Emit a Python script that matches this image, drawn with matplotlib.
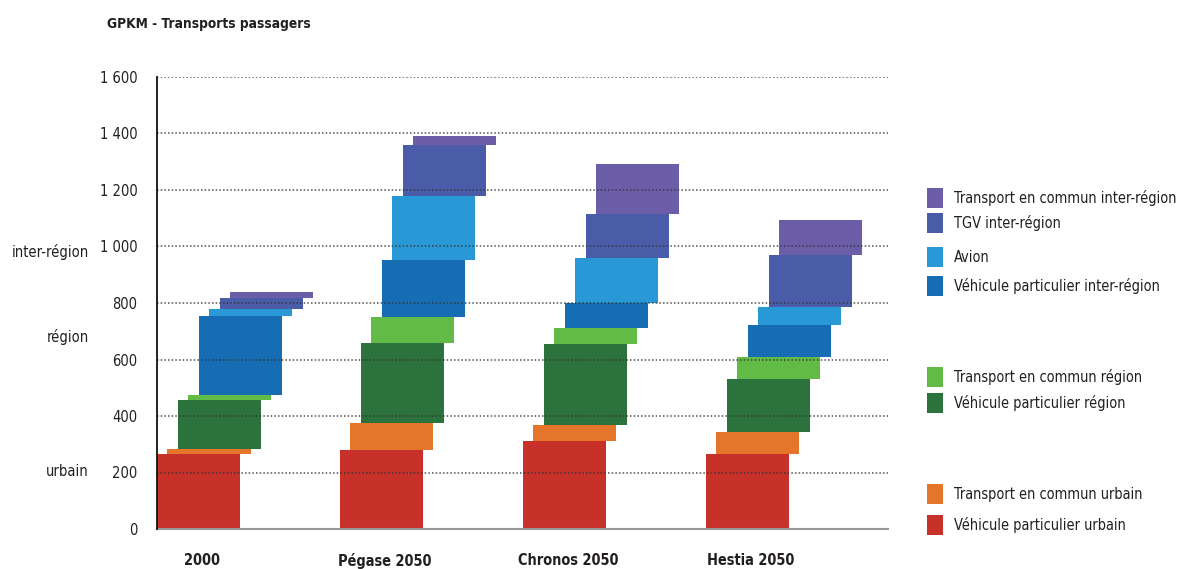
import numpy as np
import matplotlib
matplotlib.use("Agg")
import matplotlib.pyplot as plt
from matplotlib import font_manager as fm
from matplotlib.patches import Rectangle

# scenarios and passenger-km (GPKM) per transport segment, bottom to top
scenarios = ["2000", "Pégase 2050", "Chronos 2050", "Hestia 2050"]
segments = [
    "Véhicule particulier urbain",
    "Transport en commun urbain",
    "Véhicule particulier région",
    "Transport en commun région",
    "Véhicule particulier inter-région",
    "Avion",
    "TGV inter-région",
    "Transport en commun inter-région",
]
vp_urbain = [265, 280, 311, 265]
tc_urbain = [18, 95, 57, 78]
vp_region = [173, 283, 287, 188]
tc_region = [18, 92, 56, 78]
vp_inter = [280, 202, 89, 113]
avion = [25, 227, 159, 64]
tgv_inter = [39, 180, 156, 184]
tc_inter = [21, 32, 177, 124]

colors = ["#C8302A", "#E5752A", "#2B723C", "#62BB47",
          "#166DB3", "#2899D6", "#4A5CA8", "#6B5DA8"]

y_ticks = [0, 200, 400, 600, 800, 1000, 1200, 1400, 1600]
y_tick_labels = ["0", "200", "400", "600", "800", "1 000", "1 200", "1 400", "1 600"]
level_labels = ["urbain", "région", "inter-région"]
level_pos = [202, 680, 980]

series = [vp_urbain, tc_urbain, vp_region, tc_region,
          vp_inter, avion, tgv_inter, tc_inter]

# prefer a narrow face if one is installed; scale sizes to keep text widths
names = {e.name for e in fm.fontManager.ttflist}
cond = {e.name for e in fm.fontManager.ttflist if e.stretch == "condensed"}
if "Liberation Sans Narrow" in names:
    family, scale = "Liberation Sans Narrow", 1 / 0.75
    plt.rcParams["font.stretch"] = "condensed"
elif "DejaVu Sans" in cond:
    family, scale = "DejaVu Sans", 1 / 0.9
    plt.rcParams["font.stretch"] = "condensed"
else:
    family, scale = "DejaVu Sans", 1.0
plt.rcParams["font.family"] = [family, "DejaVu Sans"]

fs_tick = 9.5 * scale
fs_xlab = 9.4 * scale
fs_title = 8.9 * scale
fs_leg = 9.4 * scale
fs_level = 9.5 * scale

W, H = 1185, 569
fig = plt.figure(figsize=(W / 100, H / 100), dpi=100)
ax = fig.add_axes([157 / W, (H - 529) / H, (888 - 157) / W, (529 - 77) / H])

txt = "#231F20"
bar_w = 0.454
step = 0.057
x = np.arange(len(scenarios))
bottom = np.zeros(len(scenarios))
for k, (vals, col) in enumerate(zip(series, colors)):
    ax.bar(x + k * step, vals, width=bar_w, bottom=bottom, align="edge",
           color=col, linewidth=0, zorder=2)
    bottom += np.array(vals)

# dotted gridlines run over the bars
for t in y_ticks[1:]:
    ax.axhline(t, color="#333333", lw=1.1, ls=(0, (1, 1.4)), alpha=0.85, zorder=3)

ax.set_xlim(0, 3.995)
ax.set_ylim(0, 1600)
ax.set_yticks(y_ticks)
ax.set_yticklabels(y_tick_labels, fontsize=fs_tick, color=txt)
ax.set_xticks(x + bar_w / 2 + 0.02)
ax.set_xticklabels(scenarios, fontsize=fs_xlab, fontweight="bold", color=txt)
ax.tick_params(axis="y", length=0, pad=14)
ax.tick_params(axis="x", length=0, pad=17)

for s in ["top", "right"]:
    ax.spines[s].set_visible(False)
ax.spines["left"].set_color("#111111")
ax.spines["left"].set_linewidth(1.3)
ax.spines["bottom"].set_color("#999999")
ax.spines["bottom"].set_linewidth(1.5)
ax.spines["left"].set_zorder(4)

# distance-class labels on the far left
for lab, yv in zip(level_labels, level_pos):
    ax.text(-0.093, yv, lab, transform=ax.get_yaxis_transform(),
            ha="right", va="center", fontsize=fs_level, color=txt)

fig.text(107 / W, 1 - 24 / H, "GPKM - Transports passagers",
         fontsize=fs_title, fontweight="bold", color=txt, va="center", ha="left")

# legend, grouped by distance class
legend_y = [525, 494, 403, 377, 286, 257, 223, 198]
for lab, col, py in zip(segments, colors, legend_y):
    fig.add_artist(Rectangle((927 / W, 1 - (py + 10) / H), 16 / W, 20 / H,
                             transform=fig.transFigure, color=col, lw=0))
    fig.text(954 / W, 1 - py / H, lab, fontsize=fs_leg, color=txt,
             va="center", ha="left")

fig.savefig("out.png", dpi=100)
